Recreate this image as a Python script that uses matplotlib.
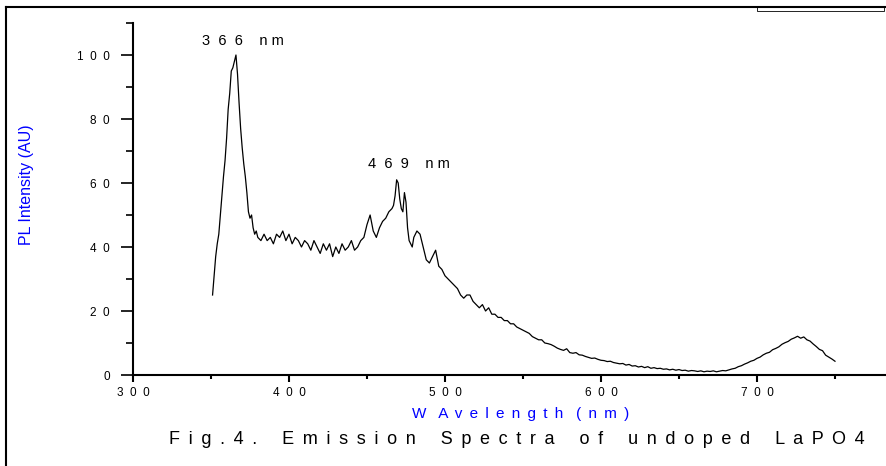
import numpy as np
import matplotlib
matplotlib.use("Agg")
import matplotlib.pyplot as plt
from matplotlib.lines import Line2D
from matplotlib.patches import Rectangle

plt.rcParams['font.family'] = ['Liberation Sans', 'DejaVu Sans']

# emission spectrum
wl_a = list(range(351, 381))
pl_a = [25, 31, 37, 41, 44, 50, 56, 62, 67, 74,
        83, 88, 95, 96, 98, 100, 94, 85, 77, 71,
        66, 62, 57, 51, 49, 50, 46, 44, 45, 43]

wl_b = list(range(382, 466, 2))
pl_b = [42, 44, 42, 43, 41, 44, 43, 45, 42, 44,
        41, 43, 42, 40, 42, 41, 39, 42, 40, 38,
        41, 39, 41, 37, 40, 38, 41, 39, 40, 42,
        39, 40, 42, 43, 47, 50, 45, 43, 46, 48,
        49, 51]

wl_c = list(range(466, 481))
pl_c = [52, 53, 56, 61, 60, 55, 52, 51, 57, 54,
        46, 42, 41, 40, 43]

wl_d = list(range(482, 751, 2))
pl_d = [45, 44, 40, 36, 35, 37, 39, 34, 33, 31,
        30, 29, 28, 27, 25, 24, 25, 25, 23, 22,
        21, 22, 20, 21, 19, 19, 18, 18, 17, 17,
        16, 16, 15, 14.5, 14, 13.5, 13, 12, 11.5, 11,
        11, 10, 9.8, 9.5, 9, 8.4, 8, 7.7, 8.2, 7,
        6.8, 7, 6.3, 6.2, 5.8, 5.5, 5.2, 5.3, 4.9, 4.6,
        4.5, 4.2, 4.3, 3.9, 3.7, 3.5, 3.6, 3.1, 3.3, 2.8,
        2.9, 2.5, 2.7, 2.3, 2.6, 2.1, 2.3, 2.0, 2.1, 1.8,
        1.9, 1.6, 1.8, 1.5, 1.7, 1.4, 1.5, 1.2, 1.4, 1.3,
        1.1, 1.3, 1.0, 1.2, 1.1, 1.3, 1.0, 1.2, 1.4, 1.3,
        1.6, 1.9, 2.1, 2.6, 2.9, 3.4, 3.8, 4.3, 4.6, 5.2,
        5.6, 6.3, 6.8, 7.1, 7.9, 8.3, 8.8, 9.6, 10.1, 10.5,
        11.2, 11.6, 12.1, 11.5, 11.9, 11.0, 10.6, 9.7, 8.9, 8.0,
        7.6, 6.2, 5.6, 5.0, 4.3]

wavelength = np.array(wl_a + wl_b + wl_c + wl_d)
intensity = np.array(pl_a + pl_b + pl_c + pl_d)

x_major = [300, 400, 500, 600, 700]
x_minor = [350, 450, 550, 650, 750]
y_major = [0, 20, 40, 60, 80, 100]
y_minor = [10, 30, 50, 70, 90, 110]

GAP = " \u2009"


def spaced(s, gap="  "):
    return gap.join(s)


def spaced_words(s, gap=GAP, word_gap="     "):
    return word_gap.join(spaced(w, gap) for w in s.split(" "))


fig = plt.figure(figsize=(8.86, 4.66), dpi=100)
ax = fig.add_axes([133 / 886, 91 / 466, 753 / 886, 352 / 466])

ax.plot(wavelength, intensity, color="black", lw=0.9)

ax.set_xlim(300, 782.7)
ax.set_ylim(0, 110)
for s in ["top", "right"]:
    ax.spines[s].set_visible(False)
for s in ["left", "bottom"]:
    ax.spines[s].set_linewidth(1.5)

ax.set_xticks(x_major)
ax.set_xticklabels([spaced(str(v)) for v in x_major])
ax.set_xticks(x_minor, minor=True)
ax.set_yticks(y_major)
ax.set_yticklabels([spaced(str(v)) for v in y_major])
ax.set_yticks(y_minor, minor=True)
ax.tick_params(axis="x", which="major", direction="out", length=5, width=1.5,
               labelsize=8.5, pad=4)
ax.tick_params(axis="x", which="minor", direction="out", length=3, width=1.5)
ax.tick_params(axis="y", which="major", direction="out", length=9, width=1.2,
               labelsize=8.5, pad=7.5)
ax.tick_params(axis="y", which="minor", direction="out", length=5, width=1.2)

ax.text(370.5, 104.5, spaced("366") + "    " + spaced("nm", " "),
        ha="center", va="center", fontsize=10.5)
ax.text(477, 66, spaced("469") + "    " + spaced("nm", " "),
        ha="center", va="center", fontsize=10.5)

fig.text(27 / 886, 1 - 185 / 466, "PL Intensity (AU)", color="blue",
         rotation=90, ha="center", va="center", fontsize=11.5)
fig.text(521 / 886, 1 - 414 / 466, spaced_words("W Avelength (nm)", GAP, "   "),
         color="blue", ha="center", va="center", fontsize=11)
fig.text(517 / 886, 1 - 440 / 466, spaced_words("Fig.4. Emission Spectra of undoped LaPO4"),
         ha="center", va="center", fontsize=13)

# outer frame lines
fig.add_artist(Line2D([6 / 886, 6 / 886], [0, 1 - 7 / 466], color="black",
                      lw=1.5, transform=fig.transFigure))
fig.add_artist(Line2D([6 / 886, 1], [1 - 7 / 466, 1 - 7 / 466], color="black",
                      lw=1.5, transform=fig.transFigure))
fig.add_artist(Rectangle((757 / 886, 1 - 11 / 466), 127 / 886, 4 / 466,
                         fill=False, ec="black", lw=0.6,
                         transform=fig.transFigure))

fig.savefig("out.png", dpi=100)
